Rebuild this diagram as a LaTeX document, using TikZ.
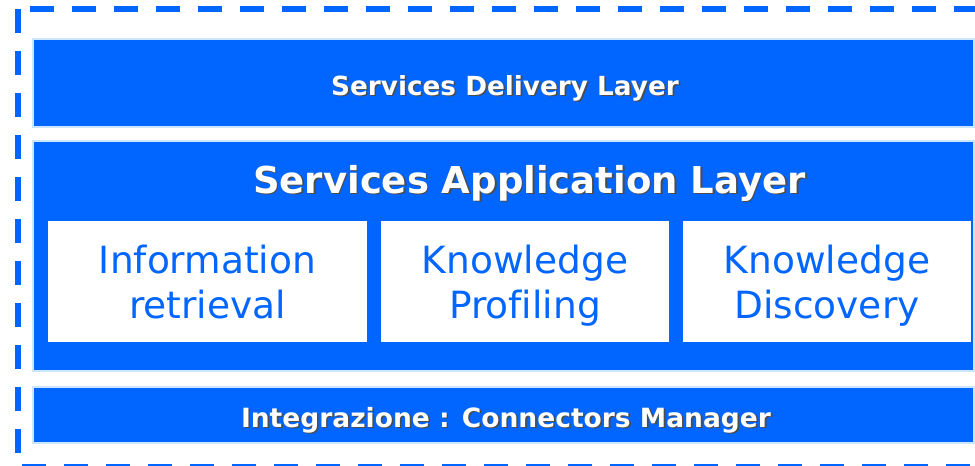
\documentclass[tikz,border=0pt]{standalone}
\usepackage{fontspec}
\setmainfont{DejaVu Sans}[Ligatures=NoCommon]
\usepackage{xcolor}

\definecolor{layerblue}{RGB}{0,102,255}
\definecolor{edgeblue}{RGB}{204,230,255}

\newcommand{\shadowed}[1]{\leavevmode\rlap{\kern1.6pt\raisebox{-1.6pt}{\textcolor{black!70}{#1}}}#1}

\tikzset{
    layerbox/.style = {rectangle, draw = edgeblue, line width = 1.5pt, fill = layerblue,
                       minimum width = 941pt, minimum height = #1, inner sep = 0pt},
    modulebox/.style = {rectangle, fill = white, minimum height = 121pt, minimum width = #1,
                        inner sep = 0pt, align = center, text = layerblue, text depth = 0pt,
                        font = \fontsize{37.5}{45}\selectfont},
    layertitle/.style = {anchor = base, text = white, inner sep = 0pt,
                         font = \fontsize{#1}{#1}\selectfont\bfseries},
    frameline/.style = {draw = layerblue, line width = 6pt, dash pattern = on 24pt off 18pt}
}

\begin{document}
\begin{tikzpicture}[x=1pt, y=-1pt]
            \useasboundingbox (0, 0) rectangle (975, 466);

            % dashed outer frame (right side lies outside the picture)
            \draw[frameline] (18, 9) -- (18, 466);
            \draw[frameline] (30, 8.5) -- (995, 8.5);
            \draw[frameline] (22, 466.5) -- (995, 466.5);

            % layers
            \node[layerbox = 88pt] (delivery) at (503.5, 83) {};
            \node[layerbox = 230pt] (application) at (503.5, 256) {};
            \node[layerbox = 56pt] (integration) at (503.5, 415) {};

            \node[layertitle = 26.3] (delivery-title) at (505, 95) {\shadowed{Services Delivery Layer}};
            \node[layertitle = 37] (application-title) at (529.5, 193) {\shadowed{Services Application Layer}};
            \node[layertitle = 26.5] (integration-title) at (506, 427) {\shadowed{Integrazione : Connectors Manager}};

            % application modules
            \node[modulebox = 319pt] (retrieval) at (207.5, 281.5) {Information\\retrieval};
            \node[modulebox = 288pt] (profiling) at (525, 281.5) {Knowledge\\Profiling};
            \node[modulebox = 288pt] (discovery) at (827, 281.5) {Knowledge\\Discovery};
        \end{tikzpicture}
\end{document}
